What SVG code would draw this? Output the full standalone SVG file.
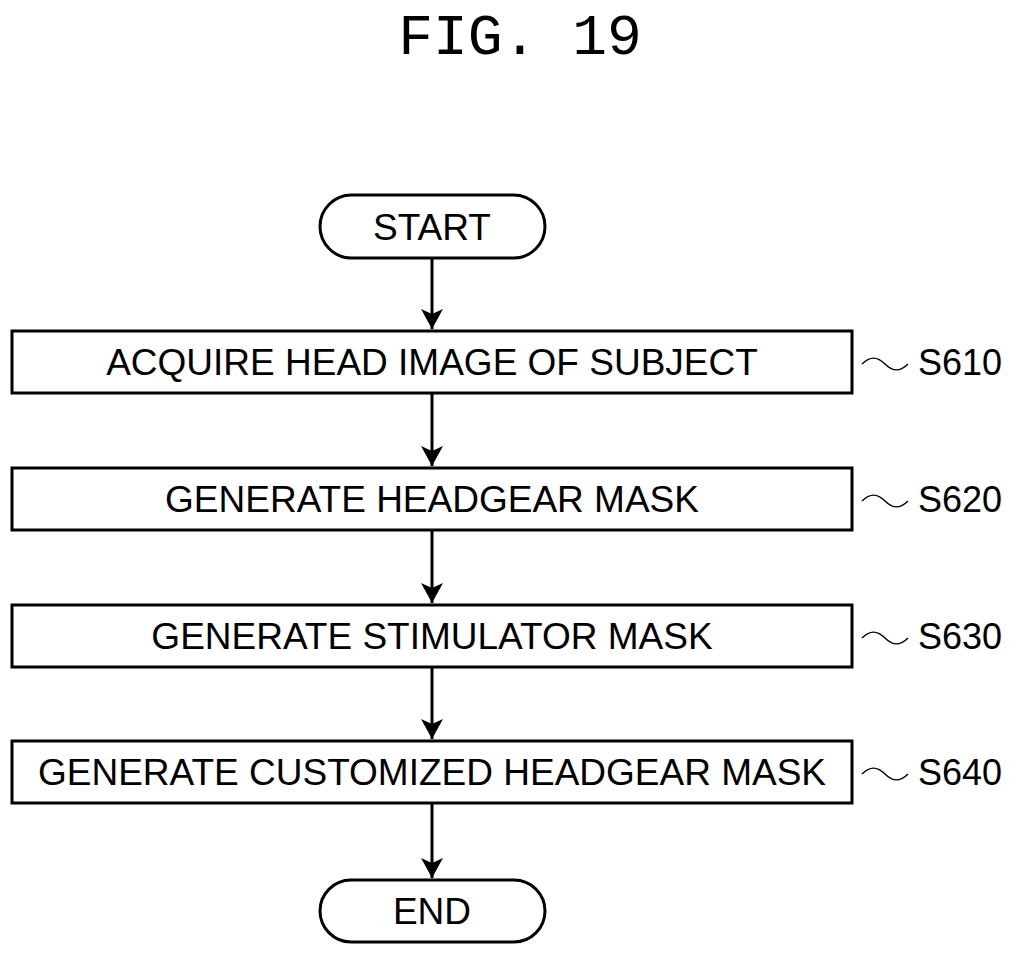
<svg xmlns="http://www.w3.org/2000/svg" width="1013" height="957" viewBox="0 0 1013 957">
<style>
.b{fill:#fff;stroke:#000;stroke-width:3}
.t{font-family:"Liberation Sans",Arial,sans-serif;font-size:37px;text-anchor:middle;dominant-baseline:central}
.l{font-family:"Liberation Sans",Arial,sans-serif;font-size:36px;dominant-baseline:central}
.c{stroke:#000;stroke-width:3;fill:none}
.w{stroke:#000;stroke-width:1.5;fill:none}
</style>
<defs>
<marker id="ah" markerWidth="20" markerHeight="22" refX="20" refY="11" orient="auto" markerUnits="userSpaceOnUse" viewBox="0 0 20 22"><path d="M0,0L20,11L0,22L5,11Z"/></marker></defs>
<text x="520" y="38" style="font-family:'Liberation Mono',monospace;font-size:58px;text-anchor:middle;dominant-baseline:central">FIG. 19</text>
<g id="connectors">
<line class="c" x1="432" y1="258" x2="432" y2="329" marker-end="url(#ah)"/>
<line class="c" x1="432" y1="393" x2="432" y2="466" marker-end="url(#ah)"/>
<line class="c" x1="432" y1="530" x2="432" y2="603" marker-end="url(#ah)"/>
<line class="c" x1="432" y1="667" x2="432" y2="739" marker-end="url(#ah)"/>
<line class="c" x1="432" y1="803" x2="432" y2="878" marker-end="url(#ah)"/>
</g>
<g id="start"><rect class="b" x="320" y="195" width="225" height="63" rx="31.5"/><text class="t" x="432" y="227">START</text></g>
<g id="s610"><rect class="b" x="12" y="331" width="840" height="62"/><text class="t" x="432" y="362">ACQUIRE HEAD IMAGE OF SUBJECT</text><path class="w" d="M862,364c8,-8 15,-8 23,0s15,8 23,0"/><text class="l" x="918" y="362">S610</text></g>
<g id="s620"><rect class="b" x="12" y="468" width="840" height="62"/><text class="t" x="432" y="499">GENERATE HEADGEAR MASK</text><path class="w" d="M862,501c8,-8 15,-8 23,0s15,8 23,0"/><text class="l" x="918" y="499">S620</text></g>
<g id="s630"><rect class="b" x="12" y="605" width="840" height="62"/><text class="t" x="432" y="636">GENERATE STIMULATOR MASK</text><path class="w" d="M862,638c8,-8 15,-8 23,0s15,8 23,0"/><text class="l" x="918" y="636">S630</text></g>
<g id="s640"><rect class="b" x="12" y="741" width="840" height="62"/><text class="t" x="432" y="772">GENERATE CUSTOMIZED HEADGEAR MASK</text><path class="w" d="M862,774c8,-8 15,-8 23,0s15,8 23,0"/><text class="l" x="918" y="772">S640</text></g>
<g id="end"><rect class="b" x="320" y="880" width="225" height="62" rx="31"/><text class="t" x="432" y="911">END</text></g>
</svg>
